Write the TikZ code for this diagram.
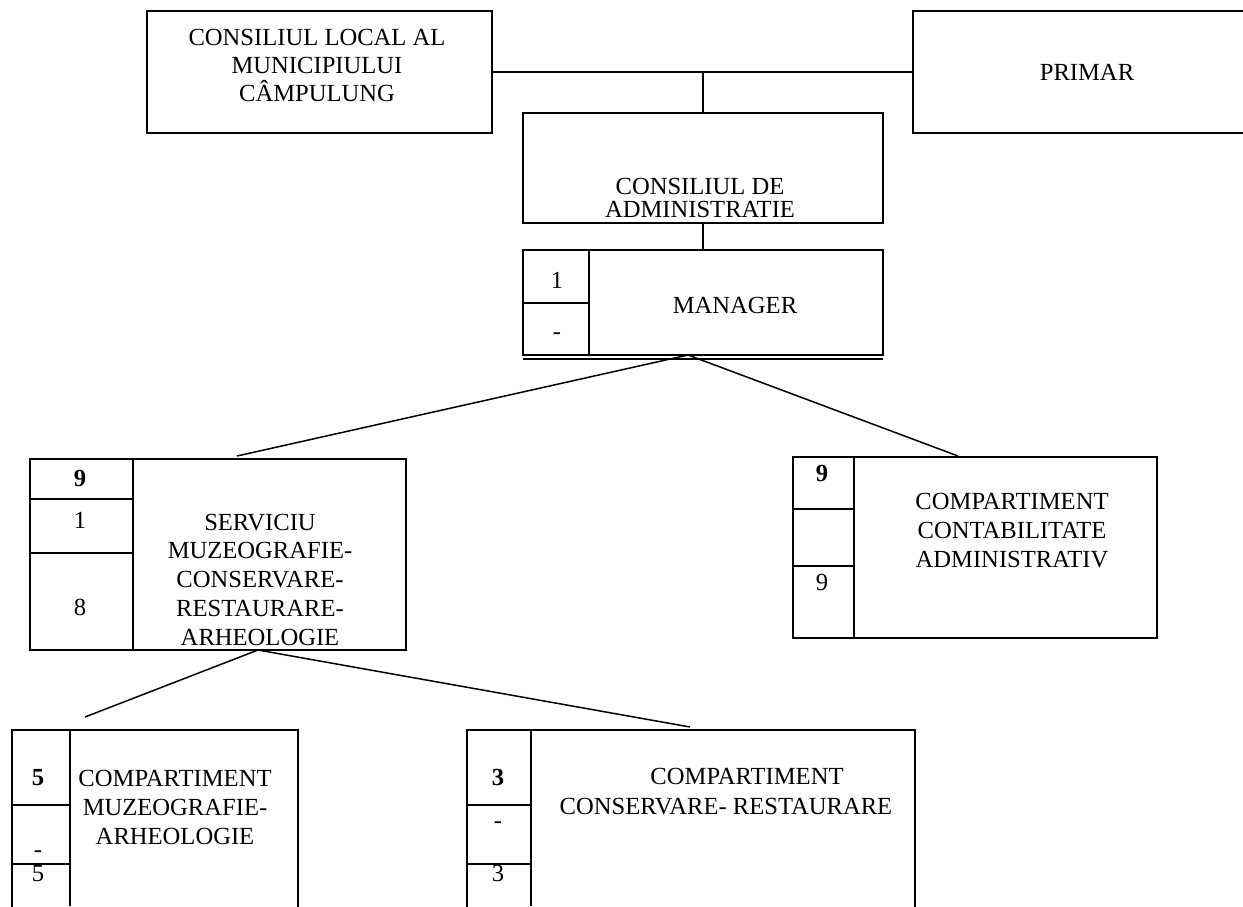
\documentclass[tikz,border=0pt]{standalone}
\usepackage{fontspec}
\setmainfont{Liberation Serif}
\usetikzlibrary{fit}
\begin{document}
\begin{tikzpicture}[x=0.5pt,y=-0.5pt,
  box/.style={draw, line width=1pt, inner sep=0pt},
  conn/.style={line width=0.75pt},
  divthin/.style={line width=0.6pt},
  divthick/.style={line width=1.1pt},
  txt/.style={inner sep=0pt, align=center},
  num/.style={inner sep=0pt, anchor=base, font=\fontsize{12.3pt}{14pt}\selectfont}
]
\useasboundingbox (0,0) rectangle (1243,906);

% boxes
\node[box, fit={(147,11) (492,133)}] (clocal) {};
\node[box, fit={(913,11) (1260,133)}] (primar) {};
\node[box, fit={(523,113) (883,223)}] (admin) {};
\node[box, fit={(523,250) (883,355)}] (mgr) {};
\node[box, fit={(30,459) (406,650)}] (serv) {};
\node[box, fit={(793,457) (1157,638)}] (contab) {};
\node[box, fit={(12,730) (298,930)}] (cmuz) {};
\node[box, fit={(467,730) (915,930)}] (ccons) {};

% inner dividers
\draw[divthick] (523,359) -- (883,359);
\draw[divthin] (589,250) -- (589,355);
\draw[divthick] (523,303) -- (589,303);

\draw[divthin] (133,459) -- (133,650);
\draw[divthin] (30,499) -- (133,499);
\draw[divthick] (30,553) -- (133,553);

\draw[divthick] (854,457) -- (854,638);
\draw[divthin] (793,509) -- (854,509);
\draw[divthick] (793,566) -- (854,566);

\draw[divthin] (70,730) -- (70,906);
\draw[divthin] (12,805) -- (70,805);
\draw[divthick] (12,864) -- (70,864);

\draw[divthin] (531,730) -- (531,906);
\draw[divthin] (467,805) -- (531,805);
\draw[divthick] (467,864) -- (531,864);

% connector points
\coordinate (junc) at (703,72);
\coordinate (mgrapex) at (688,355);
\coordinate (servtop) at (237,456);
\coordinate (contop) at (958,456);
\coordinate (servapex) at (258,650);
\coordinate (cmuztop) at (85,717);
\coordinate (ccontop) at (690,727);

% connectors
\draw[conn] (clocal.east) -- (primar.west);
\draw[conn] (junc) -- (admin.north);
\draw[conn] (admin.south) -- (mgr.north);
\draw[conn] (mgrapex) -- (servtop);
\draw[conn] (mgrapex) -- (contop);
\draw[conn] (servapex) -- (cmuztop);
\draw[conn] (servapex) -- (ccontop);

% texts
\node[txt, font=\fontsize{12.3pt}{14pt}\selectfont] (tclocal) at (317,65) {CONSILIUL LOCAL AL\\MUNICIPIULUI\\CÂMPULUNG};
\node[num] (tprimar) at (1087,80) {PRIMAR};
\node[txt, font=\fontsize{12.3pt}{11.25pt}\selectfont] (tadmin) at (700,198) {CONSILIUL DE\\ADMINISTRATIE};
\node[num] (tmgr) at (735,313) {MANAGER};
\node[num] (mgr1) at (557,288) {1};
\node[num] (mgr2) at (557,339) {-};

\node[txt, font=\fontsize{12.3pt}{14.375pt}\selectfont] (tserv) at (260,579.5) {SERVICIU\\MUZEOGRAFIE-\\CONSERVARE-\\RESTAURARE-\\ARHEOLOGIE};
\node[num] (serv1) at (80,486) {\textbf{9}};
\node[num] (serv2) at (80,528) {1};
\node[num] (serv3) at (80,615) {8};

\node[txt, font=\fontsize{12.3pt}{14.5pt}\selectfont] (tcontab) at (1012,531) {COMPARTIMENT\\CONTABILITATE\\ADMINISTRATIV};
\node[num] (contab1) at (822,481) {\textbf{9}};
\node[num] (contab3) at (822,590) {9};

\node[txt, font=\fontsize{12.3pt}{14.5pt}\selectfont] (tcmuz) at (175,807) {COMPARTIMENT\\MUZEOGRAFIE-\\ARHEOLOGIE};
\node[num] (cmuz1) at (38,785) {\textbf{5}};
\node[num] (cmuz2) at (38,857) {-};
\node[num] (cmuz3) at (38,881) {5};

\node[txt, font=\fontsize{12.3pt}{15pt}\selectfont] (tccons) at (726,792) {\hspace*{21pt}COMPARTIMENT\\CONSERVARE- RESTAURARE};
\node[num] (ccons1) at (498,785) {\textbf{3}};
\node[num] (ccons2) at (498,828) {-};
\node[num] (ccons3) at (498,881) {3};
\end{tikzpicture}
\end{document}
